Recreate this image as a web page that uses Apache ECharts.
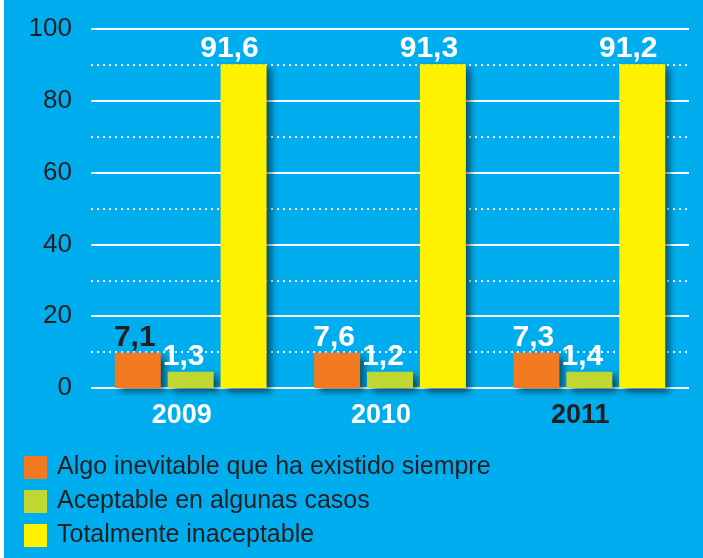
<!DOCTYPE html>
<html>
<head>
<meta charset="utf-8">
<script src="https://cdn.jsdelivr.net/npm/echarts@6/dist/echarts.min.js"></script>
<style>
html,body{margin:0;padding:0;background:#fff;}
#c{width:703px;height:558px;}
</style>
</head>
<body>
<div id="c"></div>
<script>
// Categories
var years = ['2009', '2010', '2011'];
// Series names
var seriesNames = ['Algo inevitable que ha existido siempre', 'Aceptable en algunas casos', 'Totalmente inaceptable'];
// Printed values (labels on the bars)
var orangeValues = [7.1, 7.6, 7.3];
var greenValues = [1.3, 1.2, 1.4];
var yellowValues = [91.6, 91.3, 91.2];
// Bar heights as drawn in the picture (axis units)
var orangeHeights = [9.8, 9.8, 9.8];
var greenHeights = [4.5, 4.5, 4.5];
var yellowHeights = [90.2, 90.2, 90.2];
// Y tick labels
var yTicks = [0, 20, 40, 60, 80, 100];

var dark = '#231f20';
var labelFont = '"Liberation Sans",sans-serif';
var textFont = '"Liberation Sans",sans-serif';

function fmt(v){ return String(v).replace('.', ','); }

function makeData(heights, values, darkIdx){
  return heights.map(function(h, i){
    var item = {value: h, shown: values[i]};
    if (darkIdx === i) item.label = {color: dark};
    return item;
  });
}

function barSeries(name, color, heights, values, offset, darkIdx){
  return {
    name: name,
    type: 'bar',
    barWidth: 46,
    barGap: '15%',
    data: makeData(heights, values, darkIdx),
    itemStyle: {
      color: color,
      shadowColor: 'rgba(0,0,0,0.55)',
      shadowBlur: 7,
      shadowOffsetX: 5,
      shadowOffsetY: 4
    },
    label: {
      show: true,
      position: 'top',
      distance: 0,
      offset: offset,
      color: '#fff',
      fontFamily: labelFont,
      fontWeight: 'bold',
      fontSize: 30,
      formatter: function(p){ return fmt(p.data.shown); }
    }
  };
}

var chart = echarts.init(document.getElementById('c'));
chart.setOption({
  backgroundColor: '#00aeef',
  animation: false,
  graphic: [{type: 'rect', left: 0, top: 0, shape: {width: 4, height: 558}, style: {fill: '#fff'}}],
  grid: {left: 91, right: 14, top: 29, bottom: 170},
  legend: {
    orient: 'vertical',
    left: 24,
    top: 455,
    height: 100,
    padding: 0,
    itemWidth: 23,
    itemHeight: 23,
    itemGap: 9,
    icon: 'rect',
    textStyle: {color: dark, fontSize: 25, lineHeight: 23, fontFamily: textFont, padding: [0, 0, 0, 5]},
    data: seriesNames
  },
  xAxis: {
    type: 'category',
    data: years.map(function(y, i){
      return i === 2 ? {value: y, textStyle: {color: dark}} : y;
    }),
    axisLine: {show: false},
    axisTick: {show: false},
    axisLabel: {
      color: '#fff',
      fontFamily: textFont,
      fontWeight: 'bold',
      fontSize: 27,
      margin: 14,
      padding: [0, 18, 0, 0]
    }
  },
  yAxis: {
    type: 'value',
    min: 0,
    max: 100,
    interval: 20,
    axisLine: {show: false},
    axisTick: {show: false},
    axisLabel: {
      color: dark,
      fontFamily: textFont,
      fontSize: 26,
      margin: 19,
      formatter: function(v){ return yTicks.indexOf(v) >= 0 ? String(v) : ''; }
    },
    splitLine: {lineStyle: {color: '#fff', width: 2}},
    minorTick: {show: false, splitNumber: 2},
    minorSplitLine: {show: true, lineStyle: {color: '#fff', width: 2, type: [2, 4]}}
  },
  series: [
    barSeries(seriesNames[0], '#f47a21', orangeHeights, orangeValues, [-3, 0], 0),
    barSeries(seriesNames[1], '#bfd730', greenHeights, greenValues, [-7, 0], -1),
    barSeries(seriesNames[2], '#fff200', yellowHeights, yellowValues, [-14, 0], -1)
  ]
});
</script>
</body>
</html>
